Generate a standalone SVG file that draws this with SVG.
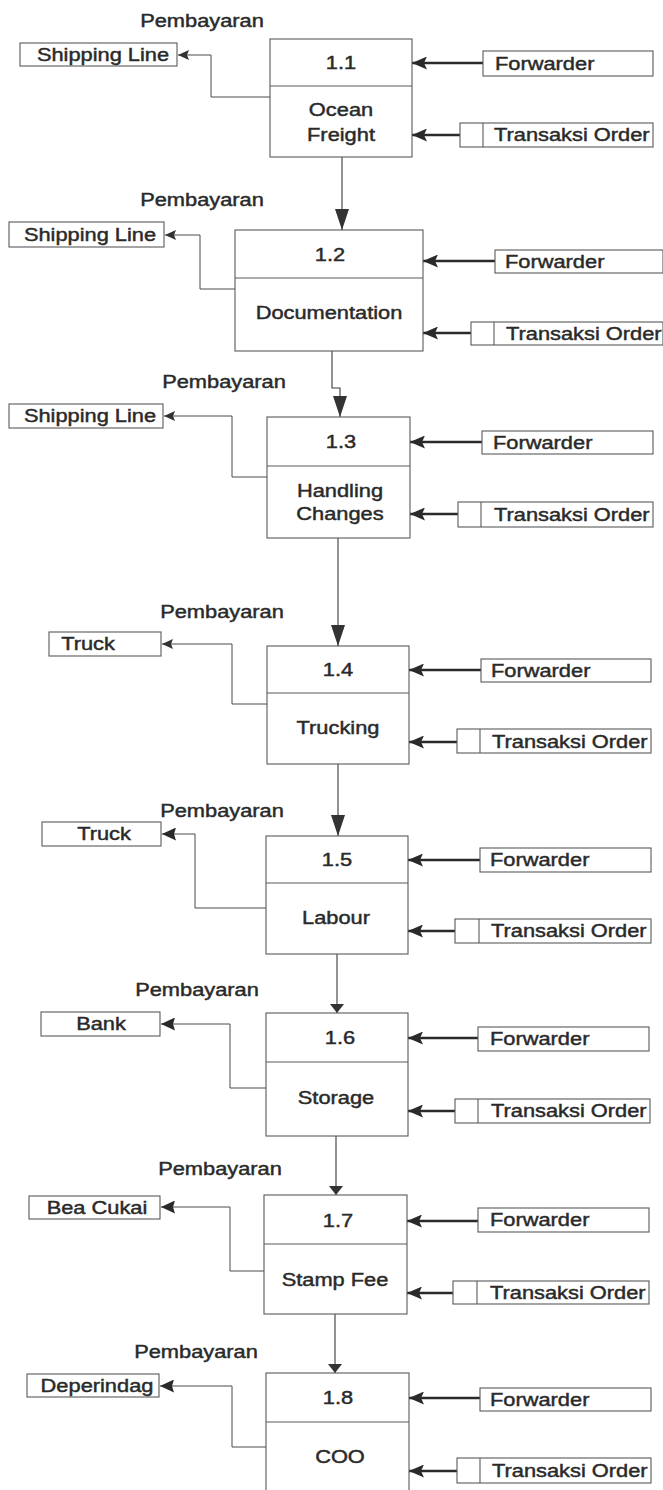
<svg xmlns="http://www.w3.org/2000/svg" width="663" height="1490" viewBox="0 0 663 1490">
  <style>
    .box { fill: #ffffff; stroke: #5a5a5a; stroke-width: 1.1; }
    .div { stroke: #5a5a5a; stroke-width: 1.1; fill: none; }
    .pay { fill: none; stroke: #4a4a4a; stroke-width: 1; }
    .in { fill: none; stroke: #2a2a2a; stroke-width: 2.6; }
    .flow { fill: none; stroke: #3a3a3a; stroke-width: 1.1; }
    text { font-family: "Liberation Sans", Arial, sans-serif; font-size: 18.5px; fill: #2a2a2a; stroke: #2a2a2a; stroke-width: 0.45; }
    .mid { text-anchor: middle; }
  </style>
  <defs>
    <marker id="ahIn" markerUnits="userSpaceOnUse" markerWidth="16" markerHeight="13" refX="15" refY="6.5" orient="auto">
      <path d="M0,0 L15,6.5 L0,13 L3,6.5 z" fill="#2a2a2a"/>
    </marker>
    <marker id="ahPay" markerUnits="userSpaceOnUse" markerWidth="12" markerHeight="10" refX="11" refY="5" orient="auto">
      <path d="M0,0 L11,5 L0,10 L2,5 z" fill="#333"/>
    </marker>
    <marker id="ahPayL" markerUnits="userSpaceOnUse" markerWidth="15" markerHeight="13" refX="14" refY="6.5" orient="auto">
      <path d="M0,0 L14,6.5 L0,13 L2,6.5 z" fill="#2a2a2a"/>
    </marker>
    <marker id="ahDown" markerUnits="userSpaceOnUse" markerWidth="22" markerHeight="15" refX="21" refY="7" orient="auto">
      <path d="M0,0 L21,7 L0,14 z" fill="#333"/>
    </marker>
    <marker id="ahDownS" markerUnits="userSpaceOnUse" markerWidth="10" markerHeight="14" refX="9" refY="7" orient="auto">
      <path d="M0,0 L9,7 L0,14 z" fill="#333"/>
    </marker>
  </defs>

  <rect width="663" height="1490" fill="#ffffff"/>

  <!-- flows between processes and entities -->
  <g id="connectors">
    <!-- 1.1 -->
    <polyline class="pay" points="270,97 211,97 211,55 178,55" marker-end="url(#ahPay)"/>
    <line class="in" x1="483" y1="63" x2="412" y2="63" marker-end="url(#ahIn)"/>
    <line class="in" x1="460" y1="135" x2="412" y2="135" marker-end="url(#ahIn)"/>
    <line class="flow" x1="342" y1="157" x2="342" y2="230" marker-end="url(#ahDown)"/>
    <!-- 1.2 -->
    <polyline class="pay" points="235,289 200,289 200,235 165,235" marker-end="url(#ahPay)"/>
    <line class="in" x1="495" y1="261" x2="423" y2="261" marker-end="url(#ahIn)"/>
    <line class="in" x1="471" y1="333" x2="423" y2="333" marker-end="url(#ahIn)"/>
    <polyline class="flow" points="332,351 332,388 340,388 340,417" marker-end="url(#ahDown)"/>
    <!-- 1.3 -->
    <polyline class="pay" points="267,477 232,477 232,416 164,416" marker-end="url(#ahPay)"/>
    <line class="in" x1="482" y1="442" x2="410" y2="442" marker-end="url(#ahIn)"/>
    <line class="in" x1="458" y1="514" x2="410" y2="514" marker-end="url(#ahIn)"/>
    <line class="flow" x1="338" y1="538" x2="338" y2="646" marker-end="url(#ahDown)"/>
    <!-- 1.4 -->
    <polyline class="pay" points="267,704 232,704 232,644 162,644" marker-end="url(#ahPay)"/>
    <line class="in" x1="481" y1="670" x2="409" y2="670" marker-end="url(#ahIn)"/>
    <line class="in" x1="457" y1="742" x2="409" y2="742" marker-end="url(#ahIn)"/>
    <line class="flow" x1="338" y1="764" x2="338" y2="836" marker-end="url(#ahDown)"/>
    <!-- 1.5 -->
    <polyline class="pay" points="266,908 195,908 195,834 162,834" marker-end="url(#ahPayL)"/>
    <line class="in" x1="480" y1="860" x2="408" y2="860" marker-end="url(#ahIn)"/>
    <line class="in" x1="455" y1="931" x2="408" y2="931" marker-end="url(#ahIn)"/>
    <line class="flow" x1="337" y1="954" x2="337" y2="1013" marker-end="url(#ahDownS)"/>
    <!-- 1.6 -->
    <polyline class="pay" points="266,1088 230,1088 230,1024 161,1024" marker-end="url(#ahPayL)"/>
    <line class="in" x1="478" y1="1038" x2="408" y2="1038" marker-end="url(#ahIn)"/>
    <line class="in" x1="455" y1="1111" x2="408" y2="1111" marker-end="url(#ahIn)"/>
    <line class="flow" x1="336" y1="1136" x2="336" y2="1195" marker-end="url(#ahDownS)"/>
    <!-- 1.7 -->
    <polyline class="pay" points="264,1271 230,1271 230,1207 161,1207" marker-end="url(#ahPayL)"/>
    <line class="in" x1="478" y1="1221" x2="407" y2="1221" marker-end="url(#ahIn)"/>
    <line class="in" x1="453" y1="1293" x2="407" y2="1293" marker-end="url(#ahIn)"/>
    <line class="flow" x1="335" y1="1314" x2="335" y2="1373" marker-end="url(#ahDownS)"/>
    <!-- 1.8 -->
    <polyline class="pay" points="266,1447 232,1447 232,1386 160,1386" marker-end="url(#ahPayL)"/>
    <line class="in" x1="480" y1="1398" x2="409" y2="1398" marker-end="url(#ahIn)"/>
    <line class="in" x1="457" y1="1471" x2="409" y2="1471" marker-end="url(#ahIn)"/>

    <!-- flow labels -->
    <text class="mid" transform="translate(202 27) scale(1.18 1)">Pembayaran</text>
    <text class="mid" transform="translate(202 206) scale(1.18 1)">Pembayaran</text>
    <text class="mid" transform="translate(224 388) scale(1.18 1)">Pembayaran</text>
    <text class="mid" transform="translate(222 618) scale(1.18 1)">Pembayaran</text>
    <text class="mid" transform="translate(222 817) scale(1.18 1)">Pembayaran</text>
    <text class="mid" transform="translate(197 996) scale(1.18 1)">Pembayaran</text>
    <text class="mid" transform="translate(220 1175) scale(1.18 1)">Pembayaran</text>
    <text class="mid" transform="translate(196 1358) scale(1.18 1)">Pembayaran</text>
  </g>

  <!-- processes -->
  <g id="p1_1">
    <rect class="box" x="270" y="39" width="142" height="118"/>
    <line class="div" x1="270" y1="86" x2="412" y2="86"/>
    <text class="mid" transform="translate(341 69) scale(1.18 1)">1.1</text>
    <text class="mid" transform="translate(341 116) scale(1.18 1)">Ocean</text>
    <text class="mid" transform="translate(341 141) scale(1.18 1)">Freight</text>
  </g>
  <g id="p1_2">
    <rect class="box" x="235" y="230" width="188" height="121"/>
    <line class="div" x1="235" y1="278" x2="423" y2="278"/>
    <text class="mid" transform="translate(330 261) scale(1.18 1)">1.2</text>
    <text class="mid" transform="translate(329 319) scale(1.18 1)">Documentation</text>
  </g>
  <g id="p1_3">
    <rect class="box" x="267" y="417" width="143" height="121"/>
    <line class="div" x1="267" y1="466" x2="410" y2="466"/>
    <text class="mid" transform="translate(341 448) scale(1.18 1)">1.3</text>
    <text class="mid" transform="translate(340 497) scale(1.18 1)">Handling</text>
    <text class="mid" transform="translate(340 520) scale(1.18 1)">Changes</text>
  </g>
  <g id="p1_4">
    <rect class="box" x="267" y="646" width="142" height="118"/>
    <line class="div" x1="267" y1="693" x2="409" y2="693"/>
    <text class="mid" transform="translate(338 676) scale(1.18 1)">1.4</text>
    <text class="mid" transform="translate(338 734) scale(1.18 1)">Trucking</text>
  </g>
  <g id="p1_5">
    <rect class="box" x="266" y="836" width="142" height="118"/>
    <line class="div" x1="266" y1="883" x2="408" y2="883"/>
    <text class="mid" transform="translate(337 866) scale(1.18 1)">1.5</text>
    <text class="mid" transform="translate(336 924) scale(1.18 1)">Labour</text>
  </g>
  <g id="p1_6">
    <rect class="box" x="266" y="1013" width="142" height="123"/>
    <line class="div" x1="266" y1="1062" x2="408" y2="1062"/>
    <text class="mid" transform="translate(340 1044) scale(1.18 1)">1.6</text>
    <text class="mid" transform="translate(336 1104) scale(1.18 1)">Storage</text>
  </g>
  <g id="p1_7">
    <rect class="box" x="264" y="1195" width="143" height="119"/>
    <line class="div" x1="264" y1="1244" x2="407" y2="1244"/>
    <text class="mid" transform="translate(338 1227) scale(1.18 1)">1.7</text>
    <text class="mid" transform="translate(335 1286) scale(1.18 1)">Stamp Fee</text>
  </g>
  <g id="p1_8">
    <rect class="box" x="266" y="1373" width="143" height="130"/>
    <line class="div" x1="266" y1="1422" x2="409" y2="1422"/>
    <text class="mid" transform="translate(338 1404) scale(1.18 1)">1.8</text>
    <text class="mid" transform="translate(340 1463) scale(1.18 1)">COO</text>
  </g>

  <!-- payment receivers -->
  <g id="pay1_1"><rect class="box" x="20" y="43" width="157" height="23"/><text class="mid" transform="translate(103 61) scale(1.18 1)">Shipping Line</text></g>
  <g id="pay1_2"><rect class="box" x="9" y="222" width="155" height="25"/><text class="mid" transform="translate(90 241) scale(1.18 1)">Shipping Line</text></g>
  <g id="pay1_3"><rect class="box" x="9" y="404" width="154" height="24"/><text class="mid" transform="translate(90 422) scale(1.18 1)">Shipping Line</text></g>
  <g id="pay1_4"><rect class="box" x="49" y="632" width="112" height="24"/><text class="mid" transform="translate(88 650) scale(1.18 1)">Truck</text></g>
  <g id="pay1_5"><rect class="box" x="42" y="822" width="119" height="24"/><text class="mid" transform="translate(104 840) scale(1.18 1)">Truck</text></g>
  <g id="pay1_6"><rect class="box" x="41" y="1012" width="119" height="24"/><text class="mid" transform="translate(101 1030) scale(1.18 1)">Bank</text></g>
  <g id="pay1_7"><rect class="box" x="29" y="1196" width="131" height="23"/><text class="mid" transform="translate(97 1214) scale(1.18 1)">Bea Cukai</text></g>
  <g id="pay1_8"><rect class="box" x="27" y="1374" width="132" height="23"/><text class="mid" transform="translate(97 1392) scale(1.18 1)">Deperindag</text></g>

  <!-- Forwarder entities -->
  <g id="fwd1_1"><rect class="box" x="483" y="51" width="170" height="25"/><text transform="translate(495 70) scale(1.18 1)">Forwarder</text></g>
  <g id="fwd1_2"><rect class="box" x="495" y="250" width="168" height="23"/><text transform="translate(505 268) scale(1.18 1)">Forwarder</text></g>
  <g id="fwd1_3"><rect class="box" x="482" y="431" width="171" height="23"/><text transform="translate(493 449) scale(1.18 1)">Forwarder</text></g>
  <g id="fwd1_4"><rect class="box" x="481" y="659" width="170" height="23"/><text transform="translate(491 677) scale(1.18 1)">Forwarder</text></g>
  <g id="fwd1_5"><rect class="box" x="480" y="848" width="171" height="24"/><text transform="translate(490 866) scale(1.18 1)">Forwarder</text></g>
  <g id="fwd1_6"><rect class="box" x="478" y="1027" width="171" height="24"/><text transform="translate(490 1045) scale(1.18 1)">Forwarder</text></g>
  <g id="fwd1_7"><rect class="box" x="478" y="1208" width="171" height="24"/><text transform="translate(490 1226) scale(1.18 1)">Forwarder</text></g>
  <g id="fwd1_8"><rect class="box" x="480" y="1388" width="171" height="23"/><text transform="translate(490 1406) scale(1.18 1)">Forwarder</text></g>

  <!-- Transaksi Order data stores -->
  <g id="tr1_1"><rect class="box" x="460" y="123" width="193" height="24"/><line class="div" x1="483" y1="123" x2="483" y2="147"/><text transform="translate(494 141) scale(1.18 1)">Transaksi Order</text></g>
  <g id="tr1_2"><rect class="box" x="471" y="322" width="192" height="23"/><line class="div" x1="494" y1="322" x2="494" y2="345"/><text transform="translate(506 340) scale(1.18 1)">Transaksi Order</text></g>
  <g id="tr1_3"><rect class="box" x="458" y="502" width="195" height="25"/><line class="div" x1="481" y1="502" x2="481" y2="527"/><text transform="translate(494 521) scale(1.18 1)">Transaksi Order</text></g>
  <g id="tr1_4"><rect class="box" x="457" y="729" width="194" height="24"/><line class="div" x1="480" y1="729" x2="480" y2="753"/><text transform="translate(492 748) scale(1.18 1)">Transaksi Order</text></g>
  <g id="tr1_5"><rect class="box" x="455" y="919" width="196" height="24"/><line class="div" x1="479" y1="919" x2="479" y2="943"/><text transform="translate(491 937) scale(1.18 1)">Transaksi Order</text></g>
  <g id="tr1_6"><rect class="box" x="455" y="1099" width="195" height="24"/><line class="div" x1="478" y1="1099" x2="478" y2="1123"/><text transform="translate(491 1117) scale(1.18 1)">Transaksi Order</text></g>
  <g id="tr1_7"><rect class="box" x="453" y="1281" width="196" height="23"/><line class="div" x1="477" y1="1281" x2="477" y2="1304"/><text transform="translate(490 1299) scale(1.18 1)">Transaksi Order</text></g>
  <g id="tr1_8"><rect class="box" x="457" y="1458" width="194" height="25"/><line class="div" x1="480" y1="1458" x2="480" y2="1483"/><text transform="translate(492 1477) scale(1.18 1)">Transaksi Order</text></g>
</svg>
